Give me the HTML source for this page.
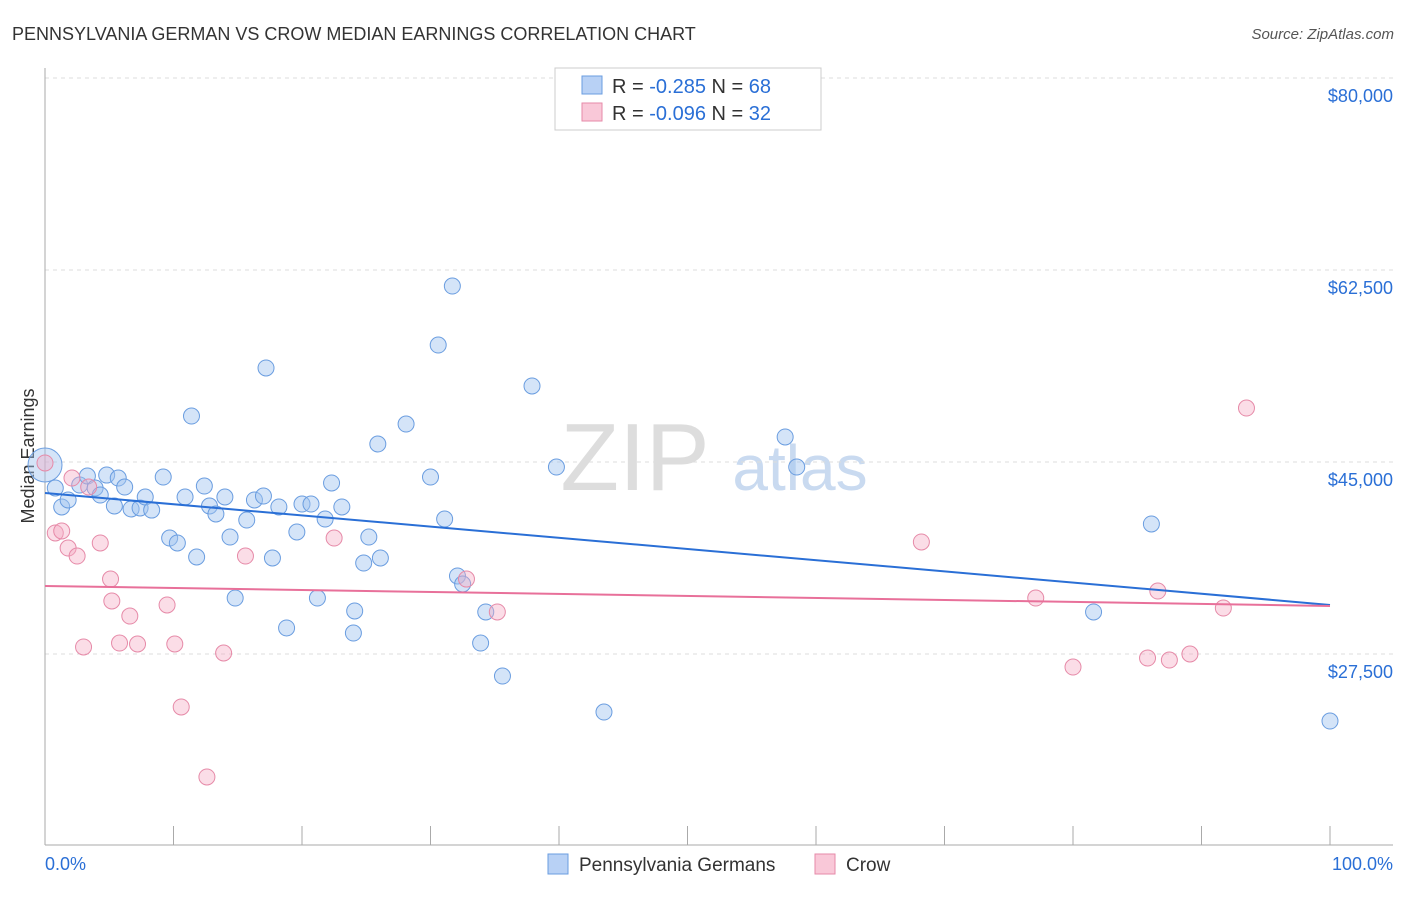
<!DOCTYPE html>
<html><head><meta charset="utf-8"><style>
body{margin:0;background:#fff;font-family:"Liberation Sans",sans-serif}
svg text{font-family:"Liberation Sans",sans-serif}
</style></head><body>
<svg id="c" width="1406" height="892">
<text x="12" y="40" font-size="18" fill="#333">PENNSYLVANIA GERMAN VS CROW MEDIAN EARNINGS CORRELATION CHART</text>
<text x="1394" y="39" font-size="15" fill="#555" text-anchor="end" font-style="italic">Source: ZipAtlas.com</text>
<text x="635" y="490" font-size="96" fill="#ddd" font-family="Liberation Serif" text-anchor="middle">ZIP</text>
<text x="800" y="490" font-size="64" fill="#c9daf0" text-anchor="middle">atlas</text>
<text transform="translate(34,456) rotate(-90)" font-size="18" fill="#333" text-anchor="middle">Median Earnings</text>
<g id="grid"></g><g id="pts"></g><g id="lines"></g>
<g>
<rect x="555" y="68" width="266" height="62" fill="#fff" stroke="#ccc"/>
<rect x="582" y="76" width="20" height="18" fill="#b8d1f5" stroke="#6a9de0"/>
<rect x="582" y="103" width="20" height="18" fill="#f9c8d8" stroke="#e68aa8"/>
<text x="612" y="93" font-size="20" fill="#333">R = <tspan fill="#2a6fd6">-0.285</tspan>   N = <tspan fill="#2a6fd6">68</tspan></text>
<text x="612" y="120" font-size="20" fill="#333">R = <tspan fill="#2a6fd6">-0.096</tspan>   N = <tspan fill="#2a6fd6">32</tspan></text>
</g>
<g>
<rect x="548" y="854" width="20" height="20" fill="#b8d1f5" stroke="#6a9de0"/>
<text x="579" y="871" font-size="19" fill="#333">Pennsylvania Germans</text>
<rect x="815" y="854" width="20" height="20" fill="#f9c8d8" stroke="#e68aa8"/>
<text x="846" y="871" font-size="19" fill="#333">Crow</text>
</g>
<text x="45" y="870" font-size="18" fill="#2a6fd6">0.0%</text>
<text x="1393" y="870" font-size="18" fill="#2a6fd6" text-anchor="end">100.0%</text>
</svg>
<script>
const yTicks=[80000,62500,45000,27500];
const yTickLabels=["$80,000","$62,500","$45,000","$27,500"];
const pgX=[0,0.8,1.3,1.8,2.7,3.3,3.9,4.3,4.8,5.4,5.7,6.2,6.7,7.4,7.8,8.3,9.2,9.7,10.3,10.9,11.4,11.8,12.4,12.8,13.3,14.0,14.4,14.8,15.7,16.3,17.0,17.2,17.7,18.2,18.8,19.6,20.0,20.7,21.2,21.8,22.3,23.1,24.0,24.1,24.8,25.2,25.9,26.1,28.1,30.0,30.6,31.1,31.7,32.1,32.5,33.9,34.3,35.6,37.9,39.8,43.5,57.6,58.5,81.6,86.1,100];
const pgY=[44730,42630,40900,41540,42900,43720,42630,41990,43810,40990,43540,42720,40720,40810,41810,40620,43630,38070,37620,41810,49190,36340,42810,40990,40260,41810,38160,32600,39710,41540,41900,53570,36250,40900,29870,38620,41170,41170,32600,39800,43090,40900,29410,31420,35790,38160,46640,36250,48460,43630,55660,39800,61040,34610,33880,28500,31330,25490,51930,44540,22210,47280,44540,31330,39350,21390];
const crX=[0,0.8,1.3,1.8,2.1,2.5,3.0,3.4,4.3,5.1,5.2,5.8,6.6,7.2,9.5,10.1,10.6,12.6,13.9,15.6,22.5,32.8,35.2,68.2,77.1,80.0,85.8,86.6,87.5,89.1,91.7,93.5];
const crY=[44910,38530,38710,37160,43540,36430,28140,42720,37620,34330,32330,28500,30960,28410,31970,28410,22670,16290,27590,36430,38070,34330,31330,37710,32600,26310,27130,33240,26950,27500,31690,49920];
const pgTrend=[42170,31970];
const crTrend=[33700,31880];
const NS="http://www.w3.org/2000/svg";
const X=p=>45+p*12.85;
const Y=v=>462-(v-45000)/91.15;
function mk(t,a,parent){const e=document.createElementNS(NS,t);for(const k in a)e.setAttribute(k,a[k]);parent.appendChild(e);return e;}
const grid=document.getElementById('grid'),pts=document.getElementById('pts'),lines=document.getElementById('lines');
yTicks.forEach((v,i)=>{
 const l=mk('line',{x1:45,x2:1393,y1:Y(v),y2:Y(v),stroke:'#ddd','stroke-dasharray':'4,4'},grid);
 
 
 const t=mk('text',{x:1393,y:Y(v)+24,'font-size':18,fill:'#2a6fd6','text-anchor':'end'},grid);
 t.textContent=yTickLabels[i];
 
 
});
const ax=mk('line',{x1:45,x2:1393,y1:845,y2:845,stroke:'#aaa'},grid);


const ay=mk('line',{x1:45,x2:45,y1:68,y2:845,stroke:'#aaa'},grid);


for(let i=0;i<=10;i++){const tk=mk('line',{x1:X(i*10),x2:X(i*10),y1:826,y2:845,stroke:'#aaa'},grid);
 
 }
pgX.forEach((x,i)=>{const c=mk('circle',{cx:X(x),cy:Y(pgY[i]),r:i==0?17:8,fill:'rgba(160,195,240,0.45)',stroke:'#6a9de0','stroke-width':1},pts);
 
 });
crX.forEach((x,i)=>{const c=mk('circle',{cx:X(x),cy:Y(crY[i]),r:8,fill:'rgba(245,170,195,0.4)',stroke:'#e68aa8','stroke-width':1},pts);
 
 });
const l1=mk('line',{x1:X(0),x2:X(100),y1:Y(pgTrend[0]),y2:Y(pgTrend[1]),stroke:'#2a6fd6','stroke-width':2},lines);


const l2=mk('line',{x1:X(0),x2:X(100),y1:Y(crTrend[0]),y2:Y(crTrend[1]),stroke:'#e8709a','stroke-width':2},lines);


</script>
</body></html>
